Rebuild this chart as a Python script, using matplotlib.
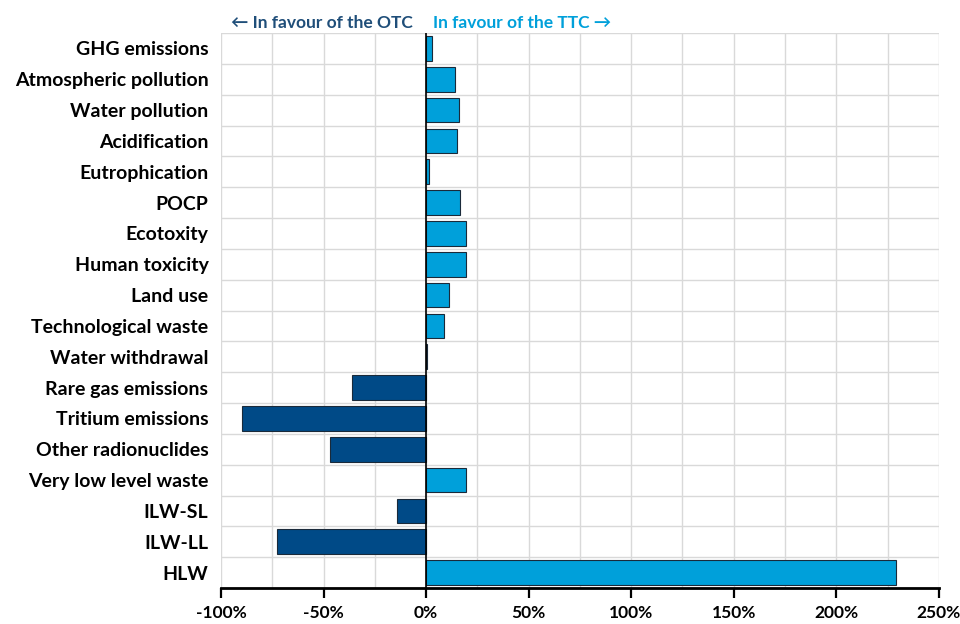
import matplotlib.pyplot as plt
from matplotlib.ticker import MultipleLocator, FuncFormatter
import numpy as np

categories = [
    'GHG emissions', 'Atmospheric pollution', 'Water pollution', 'Acidification',
    'Eutrophication', 'POCP', 'Ecotoxity', 'Human toxicity', 'Land use',
    'Technological waste', 'Water withdrawal', 'Rare gas emissions',
    'Tritium emissions', 'Other radionuclides', 'Very low level waste',
    'ILW-SL', 'ILW-LL', 'HLW',
]
values = [2.8, 14.3, 15.9, 15.0, 1.6, 16.4, 19.4, 19.4, 11.0, 8.6, 0.3,
          -36.0, -90.0, -47.0, 19.6, -14.4, -72.7, 229.0]

dark_blue = '#004A87'
light_blue = '#00A0DA'

plt.rcParams['font.family'] = ['Lato', 'DejaVu Sans']
plt.rcParams['font.weight'] = 'bold'

fig = plt.figure(figsize=(9.6, 6.24), dpi=100)
ax = fig.add_axes([0.2302, 0.0577, 0.978 - 0.2302, 0.947 - 0.0577])

y = np.arange(len(categories))
colors = [light_blue if v >= 0 else dark_blue for v in values]
ax.barh(y, values, height=0.8, color=colors, edgecolor='#1a2a3a', linewidth=0.8, zorder=3)

ax.set_ylim(len(categories) - 0.5, -0.5)
ax.set_xlim(-100, 250)
ax.set_yticks(y)
ax.set_yticklabels(categories, fontsize=14, fontweight='bold')
ax.tick_params(axis='y', length=0, pad=9)
ax.yaxis.set_minor_locator(MultipleLocator(1, offset=0.5))
ax.tick_params(axis='y', which='minor', length=0)

ax.xaxis.set_major_locator(MultipleLocator(50))
ax.xaxis.set_minor_locator(MultipleLocator(25))
ax.xaxis.set_major_formatter(FuncFormatter(lambda v, p: f'{v:.0f}%'))
ax.tick_params(axis='x', which='major', length=7, width=1.6, labelsize=12.5, pad=5)
ax.tick_params(axis='x', which='minor', length=0)
for lbl in ax.get_xticklabels():
    lbl.set_fontweight('bold')

ax.grid(True, which='minor', axis='both', color='#D9D9D9', linewidth=1, zorder=0)
ax.grid(True, which='major', axis='x', color='#D9D9D9', linewidth=1, zorder=0)
ax.axvline(0, color='black', linewidth=1.2, zorder=4)

for s in ['top', 'right', 'left']:
    ax.spines[s].set_visible(False)
ax.spines['bottom'].set_linewidth(2)
ax.spines['bottom'].set_zorder(5)

fig.text(0.430, 0.963, '\u2190 In favour of the OTC', ha='right', va='center',
         fontsize=12.5, fontweight='bold', color='#1F4E79', family=['Lato', 'DejaVu Sans'])
fig.text(0.451, 0.963, 'In favour of the TTC \u2192', ha='left', va='center',
         fontsize=12.5, fontweight='bold', color='#00A0DA', family=['Lato', 'DejaVu Sans'])

fig.savefig('out.png', dpi=100)
